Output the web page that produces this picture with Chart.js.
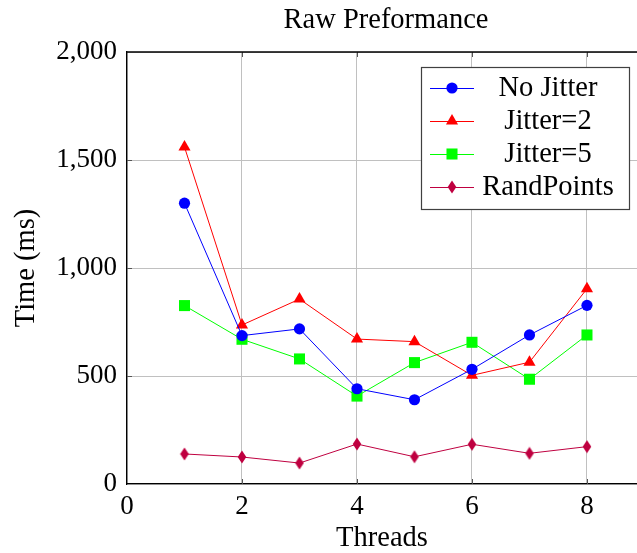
<!DOCTYPE html>
<html>
<head>
<meta charset="utf-8">
<script src="https://cdn.jsdelivr.net/npm/chart.js@4/dist/chart.umd.min.js"></script>
<style>
  html, body { margin: 0; padding: 0; background: #fff; }
  #wrap { width: 637px; height: 553px; position: relative; }
</style>
</head>
<body>
<div id="wrap"><canvas id="c" width="637" height="553"></canvas></div>
<script>
// ---- Data ----
const threads = [1, 2, 3, 4, 5, 6, 7, 8];
const noJitter = [1300, 687, 718, 441, 390, 531, 690, 827];
const jitter2 = [1560, 736, 856, 671, 659, 503, 564, 904];
const jitter5 = [826, 670, 579, 407, 562, 656, 485, 690];
const randPoints = [139, 125, 97, 185, 126, 184, 142, 173];
const seriesNames = ['No Jitter', 'Jitter=2', 'Jitter=5', 'RandPoints'];
const chartTitle = 'Raw Preformance';
const xTitle = 'Threads';
const yTitle = 'Time (ms)';

const FONT = '"Liberation Serif", "Times New Roman", serif';
const FS = 27;
const FT = 28.5;

function makeDiamond(color) {
  const c = document.createElement('canvas');
  c.width = 10; c.height = 14;
  const g = c.getContext('2d');
  g.fillStyle = color;
  g.beginPath();
  g.moveTo(5, 0.5); g.lineTo(9.3, 7); g.lineTo(5, 13.5); g.lineTo(0.7, 7);
  g.closePath(); g.fill();
  return c;
}
const diamond = makeDiamond('#bf0040');

function pts(arr) { return threads.map((t, i) => ({ x: t, y: arr[i] })); }

const datasets = [
  { label: seriesNames[0], data: pts(noJitter), borderColor: '#0000ff', backgroundColor: '#0000ff', pointStyle: 'circle', pointRadius: 5.6 },
  { label: seriesNames[1], data: pts(jitter2), borderColor: '#ff0000', backgroundColor: '#ff0000', pointStyle: 'triangle', pointRadius: 7 },
  { label: seriesNames[2], data: pts(jitter5), borderColor: '#00ff00', backgroundColor: '#00ff00', pointStyle: 'rect', pointRadius: 7.8 },
  { label: seriesNames[3], data: pts(randPoints), borderColor: '#bf0040', backgroundColor: '#bf0040', pointStyle: diamond, pointRadius: 6 }
].map(d => Object.assign(d, { borderWidth: 1, pointBorderWidth: 0, pointHoverRadius: d.pointRadius, tension: 0, fill: false, clip: false }));

function drawMarker(ctx, ds, x, y) {
  const r = ds.pointRadius, st = ds.pointStyle;
  ctx.save();
  ctx.fillStyle = ds.backgroundColor;
  if (st instanceof HTMLCanvasElement) {
    ctx.drawImage(st, x - st.width / 2, y - st.height / 2);
  } else if (st === 'circle') {
    ctx.beginPath(); ctx.arc(x, y, r, 0, Math.PI * 2); ctx.fill();
  } else if (st === 'triangle') {
    ctx.beginPath();
    let a = 0;
    ctx.moveTo(x + Math.sin(a) * r, y - Math.cos(a) * r);
    a += 2 * Math.PI / 3; ctx.lineTo(x + Math.sin(a) * r, y - Math.cos(a) * r);
    a += 2 * Math.PI / 3; ctx.lineTo(x + Math.sin(a) * r, y - Math.cos(a) * r);
    ctx.closePath(); ctx.fill();
  } else if (st === 'rect') {
    const s = Math.SQRT1_2 * r;
    ctx.fillRect(x - s, y - s, 2 * s, 2 * s);
  }
  ctx.restore();
}

const decor = {
  id: 'decor',
  beforeDatasetsDraw(chart) {
    const { ctx, chartArea: a, scales } = chart;
    ctx.save();
    ctx.strokeStyle = '#555';
    ctx.lineWidth = 1;
    scales.x.ticks.forEach(t => {
      const px = Math.round(scales.x.getPixelForValue(t.value)) + 0.5;
      if (t.value === 0) return;
      ctx.beginPath(); ctx.moveTo(px, a.bottom); ctx.lineTo(px, a.bottom - 5); ctx.stroke();
      ctx.beginPath(); ctx.moveTo(px, a.top); ctx.lineTo(px, a.top + 5); ctx.stroke();
    });
    scales.y.ticks.forEach(t => {
      const py = Math.round(scales.y.getPixelForValue(t.value)) + 0.5;
      if (t.value === 0 || t.value === 2000) return;
      ctx.beginPath(); ctx.moveTo(a.left, py); ctx.lineTo(a.left + 5, py); ctx.stroke();
    });
    ctx.restore();
  },
  afterDraw(chart) {
    const { ctx, chartArea: a } = chart;
    ctx.save();
    ctx.strokeStyle = '#000';
    ctx.lineWidth = 1.3;
    ctx.beginPath(); ctx.moveTo(a.left, a.top); ctx.lineTo(a.right, a.top); ctx.stroke();
    ctx.fillStyle = '#000';
    ctx.font = FT + 'px ' + FONT;
    ctx.textAlign = 'center';
    ctx.textBaseline = 'alphabetic';
    ctx.fillText(chartTitle, 386, 28);
    const bx = 421, by = 67, bw = 208, bh = 142;
    ctx.fillStyle = '#fff';
    ctx.fillRect(bx, by, bw, bh);
    ctx.strokeStyle = '#404040';
    ctx.lineWidth = 1.2;
    ctx.strokeRect(bx + 0.5, by + 0.5, bw, bh);
    chart.data.datasets.forEach((ds, i) => {
      const cy = 88 + i * 33;
      ctx.strokeStyle = ds.borderColor;
      ctx.lineWidth = 1;
      ctx.beginPath(); ctx.moveTo(430, cy + 0.5); ctx.lineTo(474, cy + 0.5); ctx.stroke();
      drawMarker(ctx, ds, 452, cy);
      ctx.fillStyle = '#000';
      ctx.font = FT + 'px ' + FONT;
      ctx.textAlign = 'center';
      ctx.textBaseline = 'middle';
      ctx.fillText(ds.label, 548, cy + 1);
    });
    ctx.restore();
  }
};

new Chart(document.getElementById('c'), {
  type: 'line',
  data: { datasets },
  options: {
    responsive: false,
    animation: false,
    events: [],
    layout: { autoPadding: false, padding: { top: 52, left: 0, right: 0, bottom: 0 } },
    plugins: { legend: { display: false }, title: { display: false }, tooltip: { enabled: false } },
    scales: {
      x: {
        type: 'linear', min: 0, max: 8.87,
        afterFit(s) { s.height = 69; s.paddingLeft = 0; s.paddingRight = 0; },
        ticks: { stepSize: 2, includeBounds: false, color: '#000', font: { family: FONT, size: FS }, padding: 7, maxRotation: 0 },
        grid: { color: '#c0c0c0', lineWidth: 1, drawTicks: false, tickLength: 0 },
        border: { color: '#000', width: 1.3 },
        title: { display: true, text: xTitle, color: '#000', font: { family: FONT, size: FT, lineHeight: 1.0 }, padding: { top: 0, bottom: 0 } }
      },
      y: {
        type: 'linear', min: 0, max: 2000,
        afterFit(s) { s.width = 127; s.paddingTop = 0; s.paddingBottom = 0; },
        ticks: { stepSize: 500, color: '#000', font: { family: FONT, size: FS }, padding: 10,
                 callback: v => v.toLocaleString('en-US') },
        grid: { color: '#c0c0c0', lineWidth: 1, drawTicks: false, tickLength: 0 },
        border: { color: '#000', width: 1.3 },
        title: { display: true, text: yTitle, color: '#000', font: { family: FONT, size: FT }, padding: { top: 9, bottom: 9 } }
      }
    }
  },
  plugins: [decor]
});
</script>
</body>
</html>
